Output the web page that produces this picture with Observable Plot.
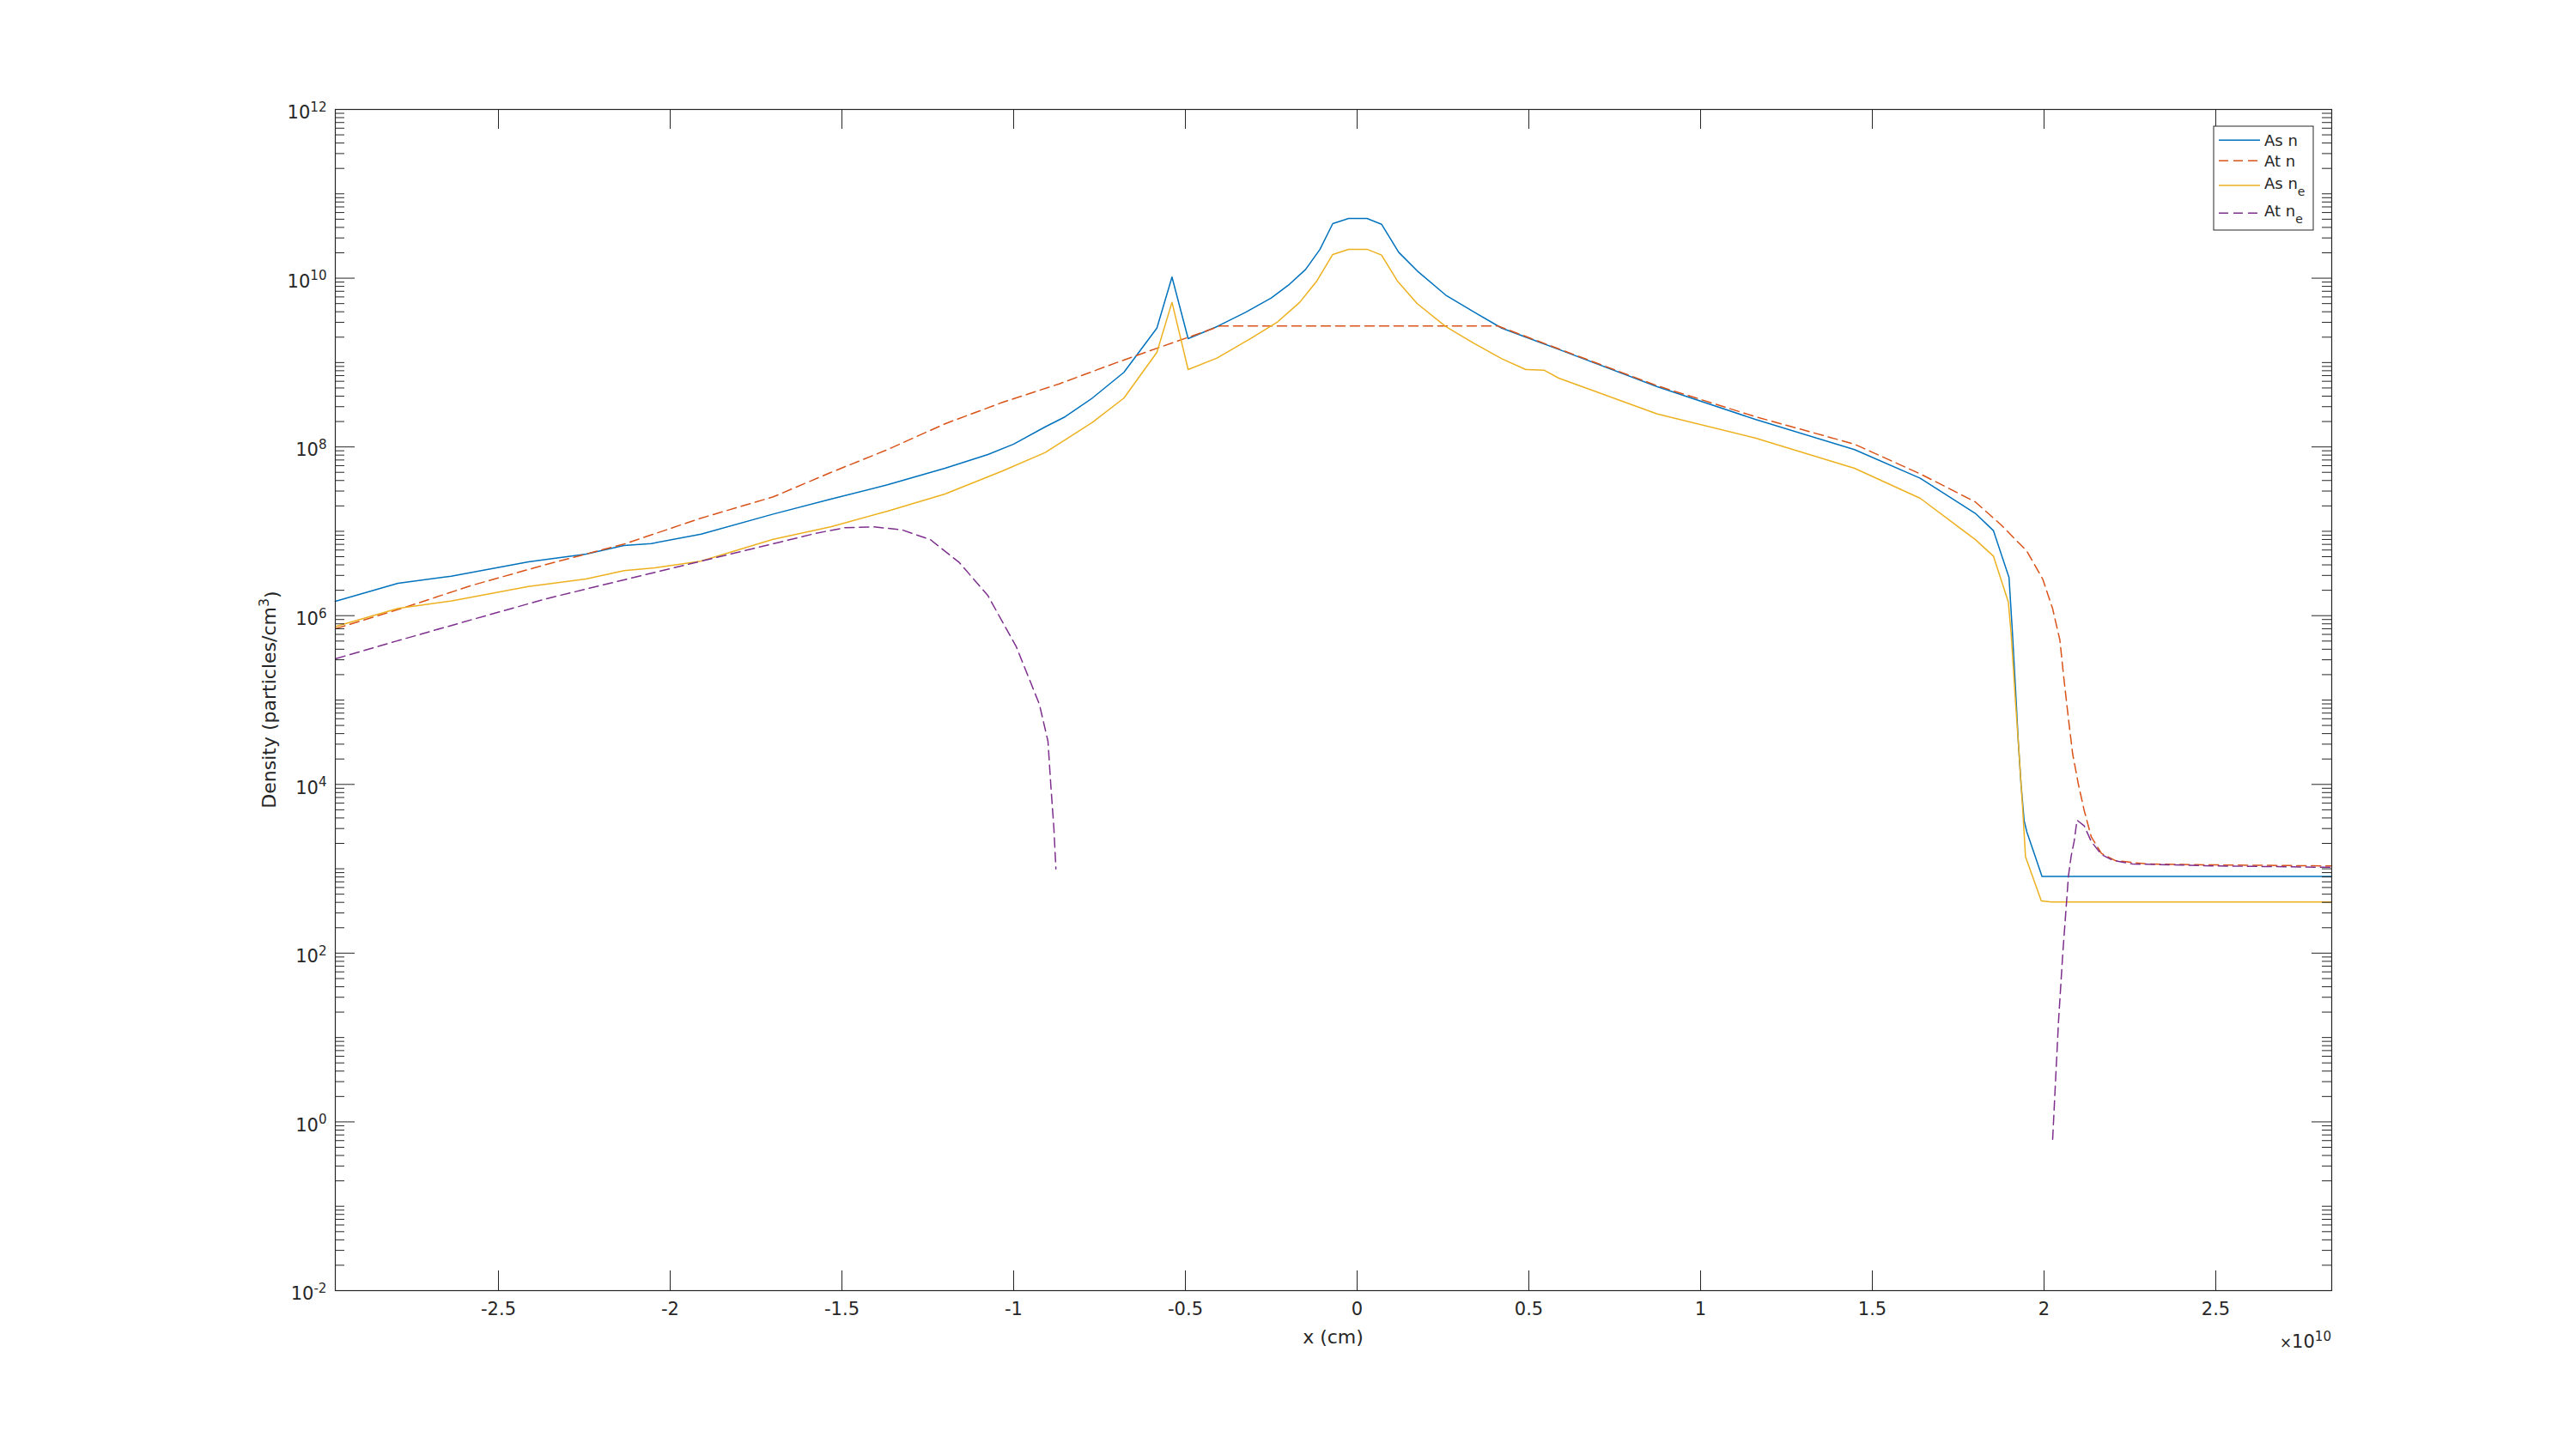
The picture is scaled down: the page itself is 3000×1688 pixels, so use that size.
<!DOCTYPE html>
<html>
<head>
<meta charset="utf-8">
<script src="https://cdn.jsdelivr.net/npm/d3@7"></script>
<script src="https://cdn.jsdelivr.net/npm/@observablehq/plot@0.6"></script>
<style>
  html, body { margin: 0; padding: 0; background: #ffffff; }
  #chart { width: 3000px; height: 1688px; }
</style>
</head>
<body>
<div id="chart"></div>
<script>
// ---------- tick labels / categories ----------
const xTicks = [-2.5, -2, -1.5, -1, -0.5, 0, 0.5, 1, 1.5, 2, 2.5];   // units of 1e10 cm
const yLabelExps = [-2, 0, 2, 4, 6, 8, 10, 12];
const seriesNames = ["As n", "At n", "As n_e", "At n_e"];
const seriesColors = ["#0072BD", "#D95319", "#EDB120", "#7E2F8E"];

// ---------- series values (x in 1e10 cm, y in particles/cm^3) ----------
const asnX = [-2.975,-2.7925,-2.6375,-2.4125,-2.245,-2.135,-2.055,-1.91,-1.70,-1.533,-1.3675,-1.20,-1.075,-1.00,-0.908,-0.85,-0.771,-0.679,-0.583,-0.539,-0.492,-0.408,-0.325,-0.25,-0.20,-0.15,-0.108,-0.071,-0.025,0.029,0.071,0.121,0.175,0.258,0.342,0.421,0.5875,0.874,1.161,1.448,1.6395,1.80,1.8525,1.898,1.908,1.917,1.925,1.933,1.942,1.95,1.994,2.8375];
const asnY = [1.48e6,2.42e6,2.94e6,4.35e6,5.37e6,6.79e6,7.16e6,9.27e6,1.60e7,2.40e7,3.56e7,5.59e7,8.13e7,1.08e8,1.73e8,2.28e8,3.79e8,7.65e8,2.56e9,1.03e10,1.92e9,2.67e9,3.94e9,5.82e9,8.27e9,1.27e10,2.20e10,4.43e10,5.10e10,5.10e10,4.36e10,2.03e10,1.22e10,6.30e9,3.94e9,2.56e9,1.43e9,5.17e8,2.11e8,9.29e7,4.25e7,1.63e7,1.02e7,2.84e6,6.22e5,1.35e5,3.21e4,1.0e4,3.73e3,2.73e3,813,813];

const atnX = [-2.973,-2.781,-2.58,-2.3575,-2.134,-1.911,-1.70,-1.533,-1.3675,-1.20,-1.033,-0.8675,-0.70,-0.533,-0.45,-0.40,0.41,0.5875,0.874,1.16,1.4475,1.64,1.80,1.875,1.95,1.996,2.025,2.046,2.058,2.071,2.083,2.10,2.117,2.1375,2.167,2.208,2.30,2.5075,2.8375];
const atnY = [7.05e5,1.22e6,2.27e6,4.08e6,7.06e6,1.43e7,2.56e7,4.97e7,9.29e7,1.88e8,3.37e8,5.59e8,1.00e9,1.74e9,2.28e9,2.71e9,2.71e9,1.45e9,5.3e8,2.28e8,1.08e8,4.78e7,2.23e7,1.19e7,5.82e6,2.72e6,1.21e6,5.15e5,1.76e5,6.01e4,2.34e4,1.0e4,4.89e3,2.39e3,1.52e3,1.25e3,1.14e3,1.11e3,1.08e3];

const asneX = [-2.973,-2.7925,-2.636,-2.413,-2.2455,-2.134,-2.045,-1.911,-1.70,-1.533,-1.3675,-1.20,-1.033,-0.908,-0.771,-0.679,-0.583,-0.539,-0.492,-0.408,-0.308,-0.233,-0.167,-0.117,-0.071,-0.025,0.029,0.071,0.117,0.175,0.258,0.342,0.421,0.491,0.544,0.587,0.874,1.161,1.448,1.6395,1.80,1.8525,1.896,1.904,1.917,1.925,1.9375,1.946,1.992,2.021,2.8375];
const asneY = [7.45e5,1.22e6,1.50e6,2.22e6,2.72e6,3.42e6,3.69e6,4.42e6,8.05e6,1.13e7,1.73e7,2.77e7,5.17e7,8.58e7,1.95e8,3.79e8,1.32e9,5.18e9,8.26e8,1.13e9,1.95e9,3.00e9,5.18e9,9.29e9,1.91e10,2.20e10,2.20e10,1.88e10,9.29e9,4.99e9,2.67e9,1.67e9,1.11e9,8.26e8,8.13e8,6.54e8,2.46e8,1.27e8,5.59e7,2.46e7,7.96e6,5.08e6,1.45e6,6.22e5,9.42e4,3.21e4,5.36e3,1.39e3,415,404,404];

const atneLeftX = [-2.973,-2.80,-2.58,-2.3575,-2.134,-1.911,-1.6875,-1.575,-1.4925,-1.408,-1.325,-1.242,-1.158,-1.075,-0.992,-0.925,-0.90,-0.892,-0.883,-0.877];
const atneLeftY = [3.10e5,4.96e5,8.91e5,1.60e6,2.66e6,4.42e6,7.33e6,9.49e6,1.10e7,1.13e7,1.04e7,7.94e6,4.25e6,1.73e6,4.25e5,8.89e4,3.23e4,1.0e4,3.10e3,998];
const atneRightX = [2.025,2.042,2.054,2.0625,2.071,2.079,2.0875,2.096,2.117,2.1375,2.167,2.20,2.258,2.5075,2.8375];
const atneRightY = [0.622,15.3,92.3,275,822,1.42e3,2.10e3,3.77e3,3.22e3,2.10e3,1.48e3,1.26e3,1.14e3,1.08e3,1.04e3];

// ---------- build tables ----------
const rows = (xs, ys, seg) => xs.map((x, i) => ({x, y: ys[i], seg}));
const asnData = rows(asnX, asnY, 0);
const atnData = rows(atnX, atnY, 0);
const asneData = rows(asneX, asneY, 0);
const atneData = rows(atneLeftX, atneLeftY, 0).concat(rows(atneRightX, atneRightY, 1));

const majorY = yLabelExps.map(e => Math.pow(10, e));
const minorY = [];
for (let k = -2; k <= 11; k++) {
  for (let m = 2; m <= 9; m++) minorY.push(m * Math.pow(10, k));
  if (k % 2 !== 0) minorY.push(Math.pow(10, k));
}

// ---------- layout ----------
const W = 3000, H = 1688;
const mL = 390, mR = 285, mT = 127, mB = 185;
const plotW = W - mL - mR, plotH = H - mT - mB;
const axisColor = "#262626";
const longTick = 23, shortTick = 11;
const dash = "11,6";

const chart = Plot.plot({
  width: W, height: H,
  marginLeft: mL, marginRight: mR, marginTop: mT, marginBottom: mB,
  x: {type: "linear", domain: [-2.975, 2.8375], label: null},
  y: {type: "log", domain: [1e-2, 1e12], label: null},
  style: {fontFamily: "'DejaVu Sans', sans-serif", fontSize: "21px", color: axisColor, background: "#ffffff", overflow: "visible"},
  marks: [
    Plot.line(asnData, {x: "x", y: "y", stroke: seriesColors[0], strokeWidth: 1.5}),
    Plot.line(atnData, {x: "x", y: "y", stroke: seriesColors[1], strokeWidth: 1.5, strokeDasharray: dash}),
    Plot.line(asneData, {x: "x", y: "y", stroke: seriesColors[2], strokeWidth: 1.5}),
    Plot.line(atneData, {x: "x", y: "y", z: "seg", stroke: seriesColors[3], strokeWidth: 1.5, strokeDasharray: dash}),
    // inward ticks
    Plot.tickX(xTicks, {x: d => d, insetTop: plotH - longTick, stroke: axisColor, strokeWidth: 1}),
    Plot.tickX(xTicks, {x: d => d, insetBottom: plotH - longTick, stroke: axisColor, strokeWidth: 1}),
    Plot.tickY(majorY, {y: d => d, insetRight: plotW - longTick, stroke: axisColor, strokeWidth: 1}),
    Plot.tickY(majorY, {y: d => d, insetLeft: plotW - longTick, stroke: axisColor, strokeWidth: 1}),
    Plot.tickY(minorY, {y: d => d, insetRight: plotW - shortTick, stroke: axisColor, strokeWidth: 1}),
    Plot.tickY(minorY, {y: d => d, insetLeft: plotW - shortTick, stroke: axisColor, strokeWidth: 1}),
    Plot.frame({stroke: axisColor, strokeWidth: 1.2}),
    Plot.axisX(xTicks, {anchor: "bottom", tickSize: 0, tickPadding: 14, tickFormat: d => String(d), label: null, fontSize: 21}),
    Plot.axisY(majorY, {anchor: "left", tickSize: 0, tickPadding: 10, dy: 4, tickFormat: d => "10^" + Math.round(Math.log10(d)), label: null, fontSize: 21})
  ]
});

document.getElementById("chart").appendChild(chart);
const svg = d3.select(chart);

// superscripts on y tick labels
svg.selectAll('g[aria-label="y-axis tick label"] text').each(function() {
  const t = d3.select(this);
  const parts = this.textContent.split("^");
  if (parts.length !== 2) return;
  t.text(null);
  t.append("tspan").text(parts[0]);
  t.append("tspan").attr("dy", "-0.55em").attr("font-size", "0.72em").text(parts[1]);
});

const extra = svg.append("g").attr("font-family", "'DejaVu Sans', sans-serif").attr("fill", axisColor);

// x label
extra.append("text").attr("x", mL + plotW / 2).attr("y", 1565).attr("text-anchor", "middle")
  .attr("font-size", 22).text("x (cm)");

// y label
const yl = extra.append("text").attr("transform", `translate(321,${mT + plotH / 2}) rotate(-90)`)
  .attr("text-anchor", "middle").attr("font-size", 22);
yl.append("tspan").text("Density (particles/cm");
yl.append("tspan").attr("dy", "-0.5em").attr("font-size", "0.72em").text("3");
yl.append("tspan").attr("dy", "0.5em").text(")");

// exponent label
const ex = extra.append("text").attr("x", mL + plotW).attr("y", 1570).attr("text-anchor", "end").attr("font-size", 21);
ex.append("tspan").attr("font-size", "0.8em").text("\u00d7");
ex.append("tspan").text("10");
ex.append("tspan").attr("dy", "-0.55em").attr("font-size", "0.72em").text("10");

// legend
const lg = svg.append("g").attr("font-family", "'DejaVu Sans', sans-serif").attr("text-anchor", "start");
lg.append("rect").attr("x", 2578).attr("y", 147).attr("width", 116).attr("height", 121)
  .attr("fill", "#ffffff").attr("stroke", axisColor).attr("stroke-width", 1);
const lineYs = [163.3, 187.3, 216, 248.3];
const textYs = [170, 194, 219.5, 251.7];
seriesNames.forEach((name, i) => {
  lg.append("line").attr("x1", 2584).attr("x2", 2632).attr("y1", lineYs[i]).attr("y2", lineYs[i])
    .attr("stroke", seriesColors[i]).attr("stroke-width", 1.5)
    .attr("stroke-dasharray", i % 2 === 1 ? dash : null);
  const t = lg.append("text").attr("x", 2637).attr("y", textYs[i]).attr("font-size", 18)
    .attr("fill", axisColor).attr("text-anchor", "start");
  const parts = name.split("_");
  t.append("tspan").text(parts[0]);
  if (parts[1]) t.append("tspan").attr("dy", 8.5).attr("font-size", 14).text(parts[1]);
});
</script>
</body>
</html>
